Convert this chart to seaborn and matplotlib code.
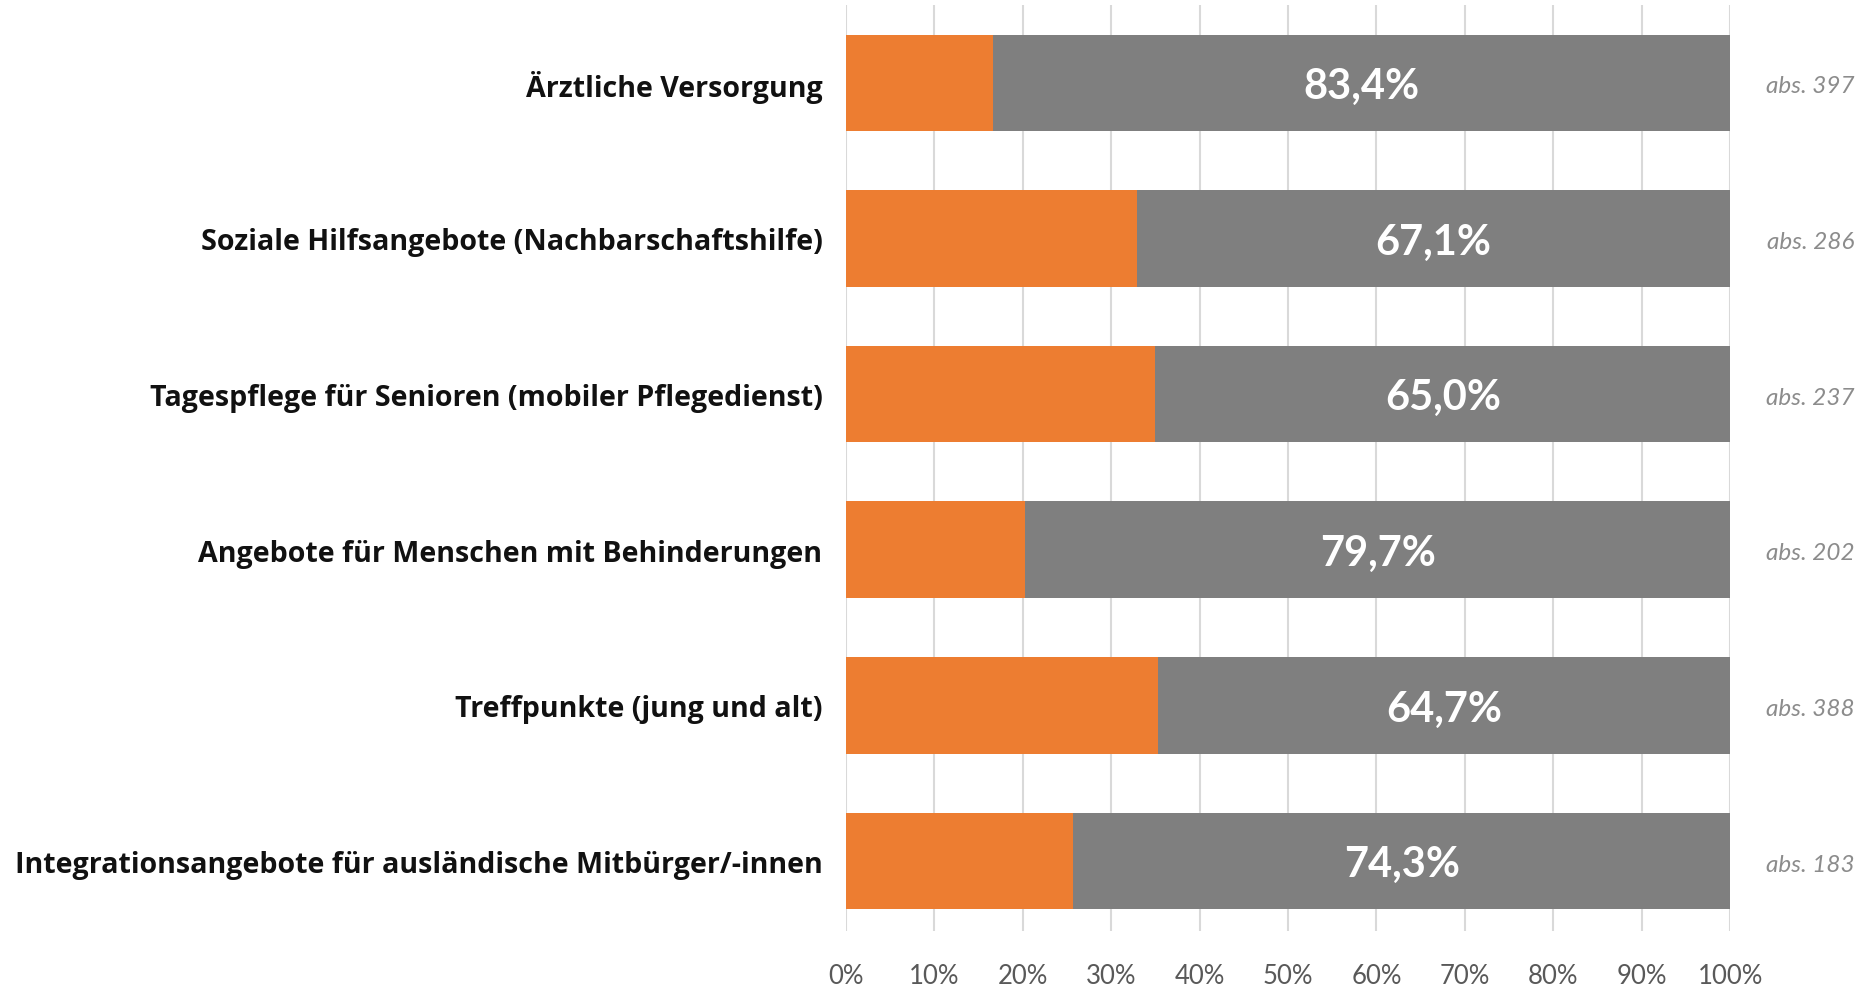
import matplotlib
matplotlib.use("Agg")
import matplotlib.pyplot as plt
import seaborn as sns
import pandas as pd

categories = [
    "Ärztliche Versorgung",
    "Soziale Hilfsangebote (Nachbarschaftshilfe)",
    "Tagespflege für Senioren (mobiler Pflegedienst)",
    "Angebote für Menschen mit Behinderungen",
    "Treffpunkte (jung und alt)",
    "Integrationsangebote für ausländische Mitbürger/-innen",
]
share_orange = [16.6, 32.9, 35.0, 20.3, 35.3, 25.7]
share_grey = [83.4, 67.1, 65.0, 79.7, 64.7, 74.3]
abs_counts = [397, 286, 237, 202, 388, 183]
x_ticks = [0, 10, 20, 30, 40, 50, 60, 70, 80, 90, 100]

ORANGE = "#ED7D31"
GREY = "#7F7F7F"

sns.set_style("white")
plt.rcParams["font.family"] = ["Lato", "DejaVu Sans"]

df = pd.DataFrame({
    "kategorie": categories,
    "orange": share_orange,
    "grau": share_grey,
})
df["gesamt"] = df["orange"] + df["grau"]

fig = plt.figure(figsize=(18.73, 9.87), dpi=100)
ax = fig.add_axes([0.4517, 0.0557, 0.4720, 0.9382])

# full stacked length in grey, orange share drawn over its left part
sns.barplot(data=df, y="kategorie", x="gesamt", orient="h", color=GREY,
            saturation=1, width=0.62, ax=ax, zorder=3)
sns.barplot(data=df, y="kategorie", x="orange", orient="h", color=ORANGE,
            saturation=1, width=0.62, ax=ax, zorder=4)
for p in ax.patches:
    p.set_edgecolor("none")
    p.set_linewidth(0)

ax.set_xlim(0, 100)
ax.set_ylim(5.45, -0.5)
ax.set_xticks(x_ticks)
ax.set_xticklabels([f"{t}%" for t in x_ticks], fontsize=18.5, color="#595959")
ax.tick_params(axis="x", length=0, pad=23)
ax.tick_params(axis="y", length=0, pad=17)
ax.set_yticks(range(len(categories)))
ax.set_yticklabels(categories, fontsize=20.6, fontweight="bold", color="#111111",
                   family=["Open Sans", "DejaVu Sans"])
ax.set_xlabel("")
ax.set_ylabel("")
ax.xaxis.grid(True, color="#D9D9D9", linewidth=1.5, zorder=0)
ax.set_axisbelow(True)
for s in ax.spines.values():
    s.set_visible(False)

for i, (o, g, n) in enumerate(zip(share_orange, share_grey, abs_counts)):
    ax.text(o + g / 2, i + 0.02, f"{g:.1f}%".replace(".", ","), ha="center", va="center",
            fontsize=30, fontweight="bold", color="white", zorder=5)
    ax.text(109.1, i + 0.02, f"abs. {n}", ha="center", va="center", fontsize=17.5,
            fontstyle="italic", color="#8C8C8C", clip_on=False)

fig.savefig("out.png", dpi=100)
